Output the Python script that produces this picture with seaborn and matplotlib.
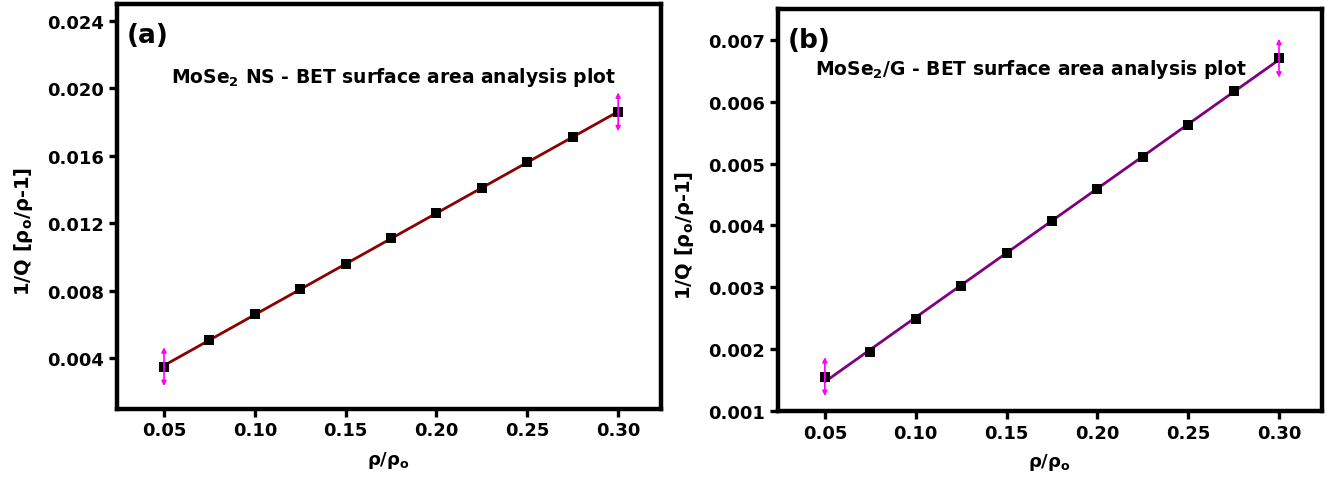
import numpy as np
import pandas as pd
import matplotlib
matplotlib.use("Agg")
import matplotlib.pyplot as plt
import seaborn as sns

# ---- data ----
p_rel = [0.05, 0.075, 0.10, 0.125, 0.15, 0.175, 0.20, 0.225, 0.25, 0.275, 0.30]
invq_ns = [0.0035, 0.0051, 0.0066, 0.0081, 0.0096, 0.0111, 0.0126, 0.0141, 0.0156, 0.0171, 0.0186]
invq_g = [0.00156, 0.00195, 0.00249, 0.00302, 0.00355, 0.00407, 0.00459, 0.00510, 0.00563, 0.00617, 0.00670]
xticks = [0.05, 0.10, 0.15, 0.20, 0.25, 0.30]
yticks_a = [0.004, 0.008, 0.012, 0.016, 0.020, 0.024]
yticks_b = [0.001, 0.002, 0.003, 0.004, 0.005, 0.006, 0.007]
titles = ["(a)", "(b)"]
notes = ["MoSe$_2$ NS - BET surface area analysis plot",
         "MoSe$_2$/G - BET surface area analysis plot"]

sns.set_theme(style="white")
plt.rcParams['font.family'] = ['DejaVu Sans']
plt.rcParams['font.weight'] = 'bold'
plt.rcParams['text.color'] = 'black'
plt.rcParams['axes.labelcolor'] = 'black'
plt.rcParams['xtick.color'] = 'black'
plt.rcParams['ytick.color'] = 'black'
plt.rcParams['mathtext.fontset'] = 'custom'
plt.rcParams['mathtext.rm'] = 'DejaVu Sans:bold'
plt.rcParams['mathtext.it'] = 'DejaVu Sans:bold'
plt.rcParams['mathtext.bf'] = 'DejaVu Sans:bold'

fig = plt.figure(figsize=(13.27, 4.85), dpi=100)
ax1 = fig.add_axes([0.088, 0.155, 0.410, 0.835])
ax2 = fig.add_axes([0.586, 0.150, 0.410, 0.830])

df_a = pd.DataFrame({"x": p_rel, "y": invq_ns})
df_b = pd.DataFrame({"x": p_rel, "y": invq_g})

configs = [
    (ax1, df_a, "#8B0000", yticks_a, (0.001, 0.025), "{:.3f}"),
    (ax2, df_b, "#800080", yticks_b, (0.001, 0.0075), "{:.3f}"),
]

for i, (ax, df, col, yt, ylim, fmt) in enumerate(configs):
    sns.regplot(data=df, x="x", y="y", ax=ax, ci=None, scatter=False,
                line_kws=dict(color=col, lw=2))
    sns.scatterplot(data=df, x="x", y="y", ax=ax, marker="s", s=55,
                    color="black", edgecolor="black", linewidth=0, zorder=5)
    # magenta double arrows at first and last points
    for j in (0, -1):
        xp, yp = df["x"].iloc[j], df["y"].iloc[j]
        for dy in (14, -14):
            ax.annotate("", xy=(xp, yp), xytext=(0, dy), textcoords="offset points",
                        arrowprops=dict(arrowstyle="<|-", color="magenta", lw=1.2,
                                        mutation_scale=7, shrinkA=0, shrinkB=0),
                        zorder=6)
    ax.set_xlim(0.024, 0.3235)
    ax.set_ylim(*ylim)
    ax.set_xticks(xticks)
    ax.set_xticklabels(["{:.2f}".format(t) for t in xticks])
    ax.set_yticks(yt)
    ax.set_yticklabels([fmt.format(t) for t in yt])
    ax.tick_params(axis="both", which="both", direction="out", length=6, width=2.4,
                   labelsize=13, left=True, bottom=True, right=False, top=False, pad=3,
                   colors="black")
    for lab in ax.get_xticklabels() + ax.get_yticklabels():
        lab.set_fontweight("bold")
    for s in ax.spines.values():
        s.set_linewidth(3.2)
        s.set_color("black")
    ax.set_xlabel("ρ/ρ$_o$", fontsize=13, fontweight="bold", labelpad=7, color="black")
    ax.set_ylabel("1/Q [ρ$_o$/ρ-1]", fontsize=14, fontweight="bold", color="black")
    ax.yaxis.set_label_coords(-0.15, 0.44)
    ax.text(0.018, 0.955, titles[i], transform=ax.transAxes, fontsize=19,
            fontweight="bold", va="top", ha="left", color="black")

ax1.text(0.10, 0.82, notes[0], transform=ax1.transAxes, fontsize=13.5,
         fontweight="bold", va="center", ha="left", color="black")
ax2.text(0.068, 0.852, notes[1], transform=ax2.transAxes, fontsize=13.5,
         fontweight="bold", va="center", ha="left", color="black")

fig.savefig("out.png", dpi=100, facecolor="white")
